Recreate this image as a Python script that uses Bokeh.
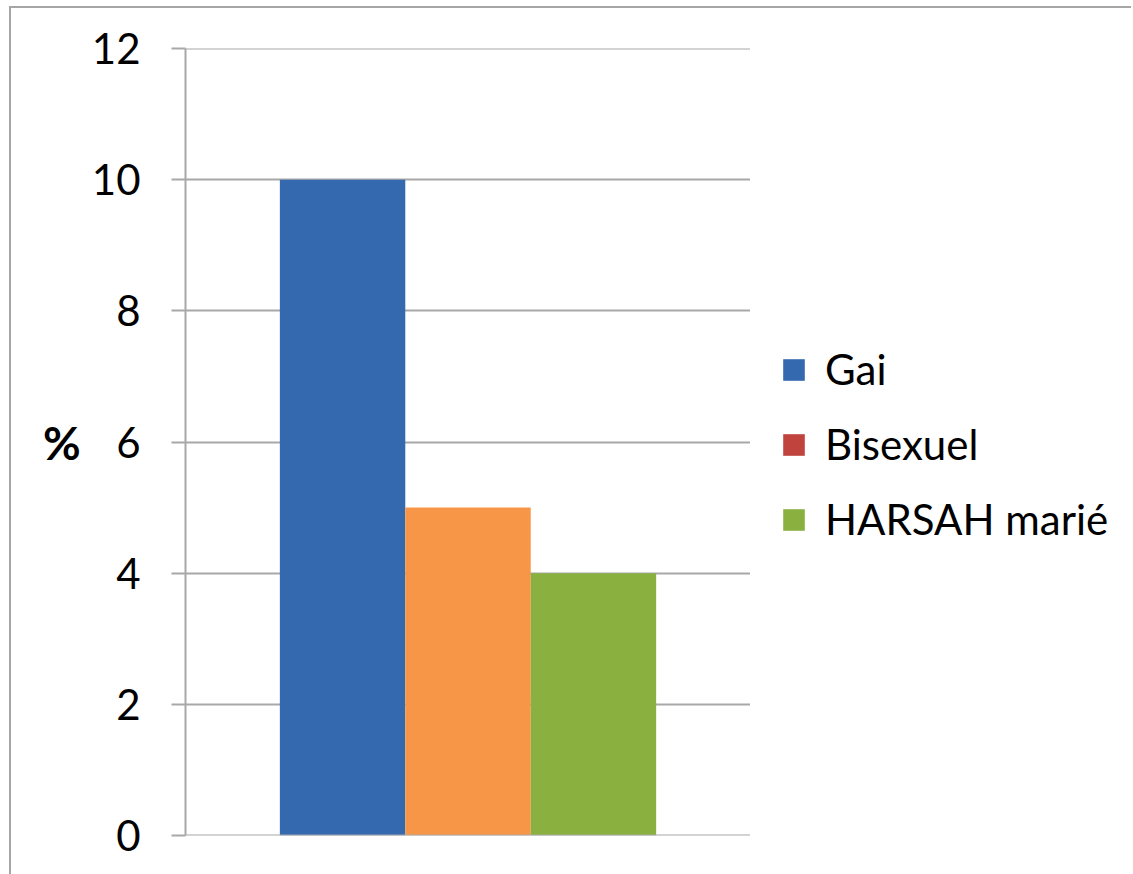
from bokeh.plotting import figure
from bokeh.layouts import row
from bokeh.models import FactorRange, Range1d, Legend, LegendItem, ColumnDataSource, FixedTicker, Span
from bokeh.transform import dodge
from bokeh.embed import file_html
from bokeh.resources import INLINE

# ---- data ----
category = ["Groupe"]
series = ["Gai", "Bisexuel", "HARSAH marié"]
values = [10, 5, 4]
bar_colors = ["#3469AF", "#F79646", "#8AB040"]
legend_colors = ["#3469AF", "#C0433D", "#8AB040"]
y_ticks = [0, 2, 4, 6, 8, 10, 12]

FONT = "Lato"
GRID = "#A8A8A8"

p = figure(width=739, height=866,
           x_range=FactorRange(factors=category), y_range=Range1d(y_ticks[0], y_ticks[-1]),
           output_backend="svg", toolbar_location=None,
           min_border_left=174, min_border_right=0,
           min_border_top=40, min_border_bottom=39)
p.outline_line_color = None
p.background_fill_color = "white"
p.border_fill_color = "white"

# legend-only figure to the right
p2 = figure(width=381, height=866,
            x_range=FactorRange(factors=category), y_range=Range1d(0, 1),
            output_backend="svg", toolbar_location=None,
            min_border_left=0, min_border_right=0, min_border_top=0, min_border_bottom=0)
p2.outline_line_color = None
p2.axis.visible = False
p2.grid.visible = False
p2.border_fill_color = "white"

offsets = [-0.222, 0.0, 0.222]
bar_w = 0.222
legend_items = []
for name, val, col, lcol, off in zip(series, values, bar_colors, legend_colors, offsets):
    src = ColumnDataSource(dict(cat=category, v=[val]))
    p.vbar(x=dodge("cat", off, range=p.x_range), top="v", width=bar_w, bottom=0,
           source=src, fill_color=col, line_color=None)
    dummy = ColumnDataSource(dict(cat=category, v=[0]))
    r = p2.vbar(x="cat", top="v", bottom=0, width=0.0, source=dummy, fill_color=lcol, line_color=None)
    legend_items.append(LegendItem(label=name, renderers=[r], index=0))

legend = Legend(items=legend_items, location=(30, 291),
                label_text_font=FONT, label_text_font_size="42px",
                label_text_color="#000000",
                glyph_width=27, glyph_height=27, label_standoff=18,
                spacing=25, padding=0, margin=0,
                border_line_color=None, background_fill_alpha=0)
p2.add_layout(legend, "center")

# boundary lines at 0 and 12 (grid skips range ends)
for t in (y_ticks[0], y_ticks[-1]):
    p.add_layout(Span(location=t, dimension="width", line_color=GRID, line_width=2))

# axes
p.xaxis.visible = False
p.xgrid.visible = False
p.ygrid.ticker = FixedTicker(ticks=y_ticks)
p.ygrid.grid_line_color = GRID
p.ygrid.grid_line_width = 2

yax = p.yaxis[0]
yax.ticker = FixedTicker(ticks=y_ticks)
yax.axis_line_color = GRID
yax.axis_line_width = 2
yax.major_tick_line_color = GRID
yax.major_tick_line_width = 2
yax.major_tick_out = 14
yax.major_tick_in = 0
yax.minor_tick_line_color = None
yax.major_label_text_font = FONT
yax.major_label_text_font_size = "42px"
yax.major_label_text_color = "#000000"
yax.major_label_standoff = 31
yax.axis_label = "%"
yax.axis_label_orientation = "horizontal"
yax.axis_label_text_font = FONT
yax.axis_label_text_font_size = "46px"
yax.axis_label_text_font_style = "bold"
yax.axis_label_text_color = "#000000"
yax.axis_label_standoff = 8

layout = row(p, p2, spacing=0)
layout.styles = {"border-top": "2px solid #A6A6A6", "border-left": "2px solid #A6A6A6",
                 "margin-left": "9px", "margin-top": "6px"}

open("out.html", "w").write(file_html(layout, INLINE))
